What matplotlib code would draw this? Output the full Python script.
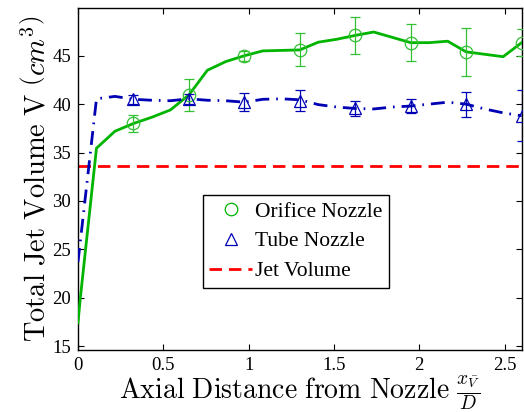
import numpy as np
import matplotlib
matplotlib.use("Agg")
import matplotlib.pyplot as plt
from matplotlib.lines import Line2D

# ---- data ----
dx = 2.6 / 24
x_grid = [k * dx for k in range(25)]

orifice_x = [0.0, 0.012] + x_grid[1:]
orifice_y = [17.4, 19.7, 35.45, 37.2, 38.0, 38.65, 39.4, 40.95, 43.5, 44.4, 45.0,
             45.5, 45.55, 45.6, 46.4, 46.7, 47.1, 47.45, 46.9, 46.35, 46.35,
             46.5, 45.4, 45.15, 44.9, 46.35]

orifice_err_x = [x_grid[k] for k in (3, 6, 9, 12, 15, 18, 21, 24)]
orifice_err_y = [38.0, 40.95, 45.0, 45.6, 47.1, 46.35, 45.4, 46.35]
orifice_err = [0.9, 1.65, 0.5, 1.7, 1.95, 1.9, 2.45, 1.4]

tube_x = x_grid
tube_y = [23.7, 40.55, 40.8, 40.5, 40.4, 40.35, 40.55, 40.4, 40.35, 40.2, 40.5,
          40.55, 40.45, 39.95, 39.7, 39.55, 39.5, 39.7, 39.8, 40.0, 40.2,
          40.0, 39.5, 39.1, 38.8]
tube_err_x = [x_grid[k] for k in (3, 6, 9, 12, 15, 18, 21, 24)]
tube_err_y = [40.5, 40.55, 40.2, 40.35, 39.55, 39.8, 40.0, 38.8]
tube_err = [0.45, 0.5, 0.9, 1.1, 0.75, 0.7, 1.3, 2.65]

jet_volume = 33.6

xticks = [0, 0.5, 1, 1.5, 2, 2.5]
xtick_labels = ["0", "0.5", "1", "1.5", "2", "2.5"]
yticks = [15, 20, 25, 30, 35, 40, 45]
ytick_labels = ["15", "20", "25", "30", "35", "40", "45"]

# ---- style ----
plt.rcParams['mathtext.fontset'] = 'cm'
plt.rcParams['font.family'] = ['Liberation Serif', 'DejaVu Serif']

green = '#00b400'
green_err = '#33c033'
blue = '#0000b4'
red = '#ff0000'

fig = plt.figure(figsize=(5.24, 4.12), dpi=100)
ax = fig.add_axes([78/524, 1 - 350/412, (521.6 - 78)/524, (350 - 8.3)/412])

ax.plot(orifice_x, orifice_y, '-', color=green, lw=2.0, zorder=3)
ax.errorbar(orifice_err_x, orifice_err_y, yerr=orifice_err, fmt='o', mfc='none',
            mec=green_err, color=green_err, ms=9, mew=0.9, elinewidth=0.9,
            capsize=3.5, capthick=0.9, zorder=4)

ax.plot(tube_x, tube_y, color=blue, lw=2.0, dashes=(5, 2.5, 0.6, 2.5), zorder=3)
ax.errorbar(tube_err_x, tube_err_y, yerr=tube_err, fmt='^', mfc='none',
            mec=blue, color=blue, ms=9, mew=0.9, elinewidth=0.9, capsize=3.5,
            capthick=0.9, zorder=4)

ax.axhline(jet_volume, color=red, lw=2.0, dashes=(4.5, 2.5), zorder=2)

ax.set_xlim(0, 2.6)
ax.set_ylim(14.6, 49.9)
ax.set_xticks(xticks)
ax.set_xticklabels(xtick_labels)
ax.set_yticks(yticks)
ax.set_yticklabels(ytick_labels)
ax.tick_params(direction='in', length=4, width=0.8, top=True, right=True,
               labelsize=13.5, pad=5)
for sp in ax.spines.values():
    sp.set_linewidth(1.0)

ax.set_xlabel(r"$\mathrm{Axial\ Distance\ from\ Nozzle}\ \frac{x_{\bar V}}{D}$",
              fontsize=20, labelpad=0)
ax.set_ylabel(r"$\mathrm{Total\ Jet\ Volume\ V}\ \left(cm^3\right)$",
              fontsize=20.5, labelpad=1)

handles = [
    Line2D([], [], ls='none', marker='o', mfc='none', mec=green, ms=9, mew=0.9),
    Line2D([], [], ls='none', marker='^', mfc='none', mec=blue, ms=9, mew=0.9),
    Line2D([], [], color=red, lw=2.0, dashes=(4.5, 2.5)),
]
leg = ax.legend(handles, ["Orifice Nozzle", "Tube Nozzle", "Jet Volume"],
                loc='center', bbox_to_anchor=(0.491, 0.318), fontsize=15.5,
                frameon=True, fancybox=False, edgecolor='black', framealpha=1,
                handlelength=2.0, handletextpad=0.15, borderpad=0.3,
                labelspacing=0.45)
leg.get_frame().set_linewidth(1.0)

fig.savefig("out.png", dpi=100)
